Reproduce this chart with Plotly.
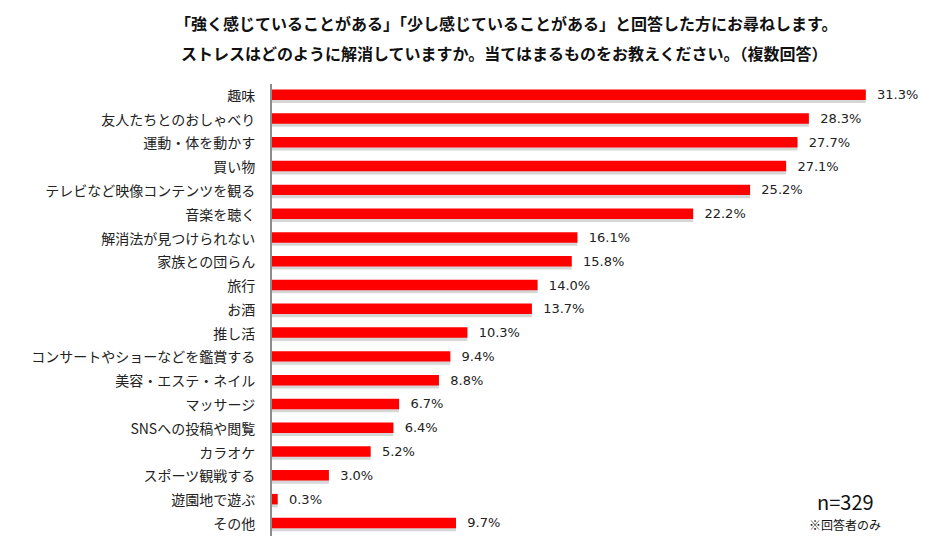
import plotly.graph_objects as go

categories = ["趣味", "友人たちとのおしゃべり", "運動・体を動かす", "買い物", "テレビなど映像コンテンツを観る",
              "音楽を聴く", "解消法が見つけられない", "家族との団らん", "旅行", "お酒", "推し活",
              "コンサートやショーなどを鑑賞する", "美容・エステ・ネイル", "マッサージ", "SNSへの投稿や閲覧",
              "カラオケ", "スポーツ観戦する", "遊園地で遊ぶ", "その他"]
values = [31.3, 28.3, 27.7, 27.1, 25.2, 22.2, 16.1, 15.8, 14.0, 13.7, 10.3, 9.4, 8.8, 6.7, 6.4, 5.2, 3.0, 0.3, 9.7]

title_line1 = "「強く感じていることがある」「少し感じていることがある」と回答した方にお尋ねします。"
title_line2 = "ストレスはどのように解消していますか。当てはまるものをお教えください。（複数回答）"

JP = "Noto Sans CJK JP, sans-serif"
W, H = 949, 556
pl, pr, pt, pb = 272, 13, 84, 20
pw, ph = W - pl - pr, H - pt - pb

def px(xp, yp):
    return (xp - pl) / pw, (H - pb - yp) / ph

fig = go.Figure()
# soft shadow behind bars
fig.add_trace(go.Bar(
    y=categories, x=values, orientation="h",
    marker=dict(color="rgba(0,0,0,0.16)", line=dict(width=0)),
    width=0.42, offset=-0.12, hoverinfo="skip", showlegend=False,
))
fig.add_trace(go.Bar(
    y=categories, x=values, orientation="h",
    marker=dict(color="#ff0000", line=dict(width=0)),
    width=0.44, offset=-0.27,
    text=[f"{v:.1f}%" for v in values],
    texttemplate="  %{text}",
    textposition="outside", cliponaxis=False, constraintext="none",
    textfont=dict(family="DejaVu Sans, Verdana, sans-serif", size=13, color="#222222"),
    showlegend=False,
))

anns = []
for txt, xp, yp, size, bold in [
    (title_line1, 506, 23, 16, True),
    (title_line2, 504, 53, 16, True),
    ("n=329", 845, 501, 20, False),
    ("※回答者のみ", 845, 524, 12, False),
]:
    xx, yy = px(xp, yp)
    anns.append(dict(
        text=f"<b>{txt}</b>" if bold else txt,
        x=xx, y=yy, xref="paper", yref="paper", showarrow=False,
        xanchor="center", yanchor="middle",
        font=dict(family=JP, size=size, color="#111111"),
    ))

fig.update_layout(
    width=W, height=H,
    margin=dict(l=pl, r=pr, t=pt, b=pb),
    paper_bgcolor="white", plot_bgcolor="white",
    barmode="overlay",
    xaxis=dict(range=[0, 35], visible=False, fixedrange=True),
    yaxis=dict(
        categoryorder="array", categoryarray=categories, autorange=False,
        range=[len(categories) - 0.5, -0.5],
        showline=True, linecolor="#8c8c8c", linewidth=2,
        showgrid=False, ticks="", ticklabelstandoff=12,
        tickfont=dict(family=JP, size=14, color="#222222"),
        zeroline=False,
    ),
    font=dict(family=JP),
    annotations=anns,
)

fig.write_html("out.html")
